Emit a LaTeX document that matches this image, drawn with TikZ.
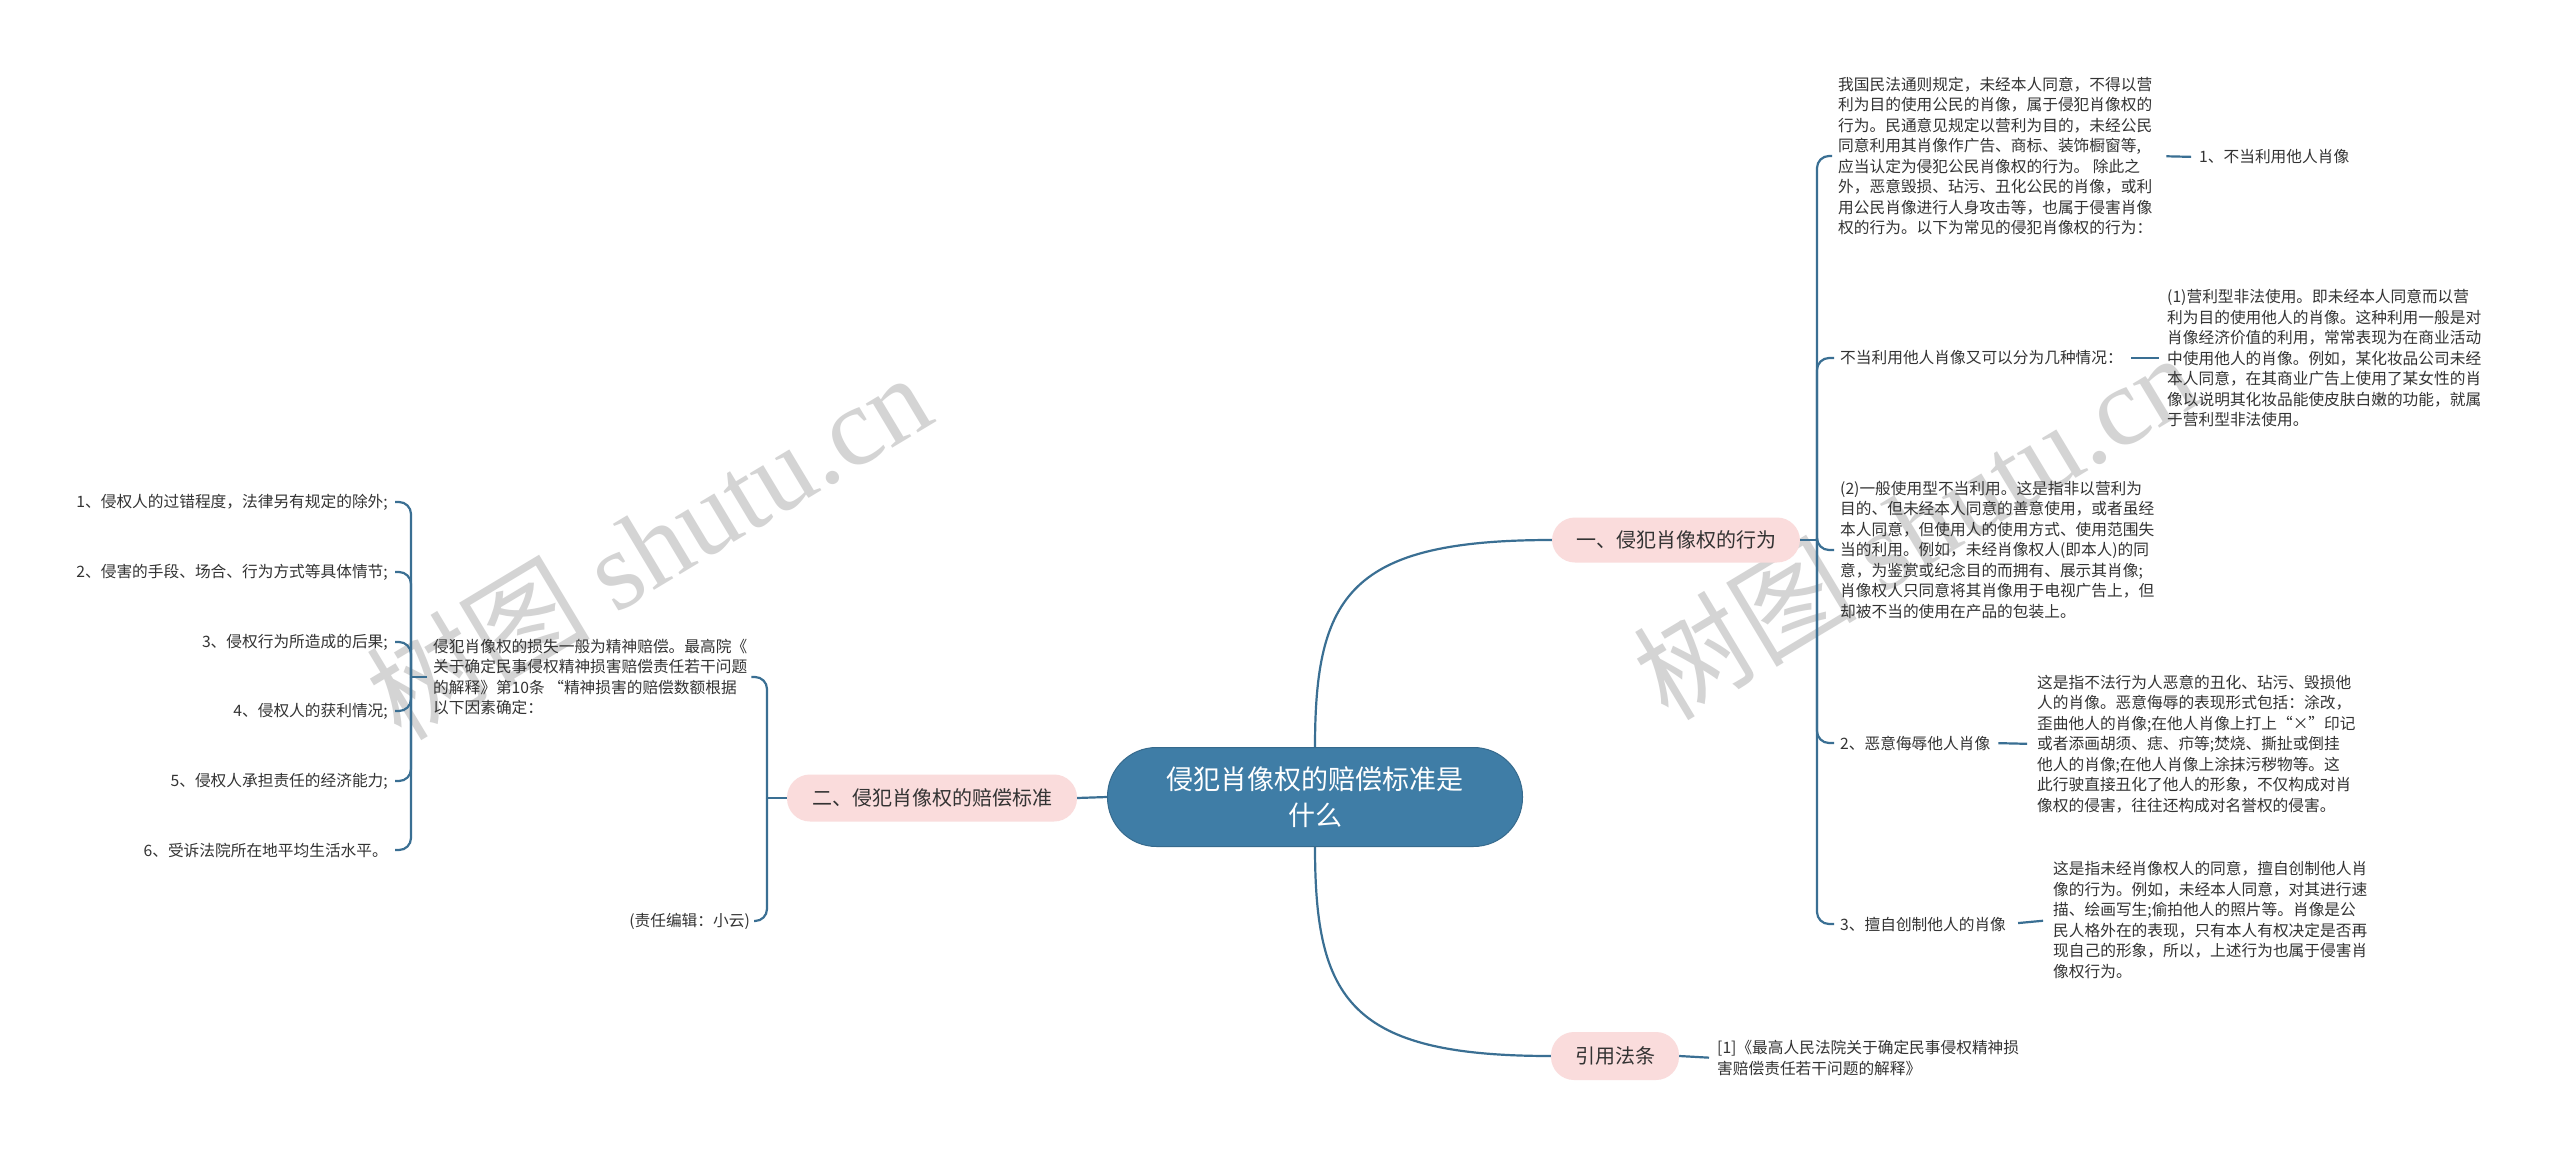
\documentclass[tikz,border=0pt]{standalone}
\usepackage{fontspec}
\setmainfont{Noto Sans CJK SC}
\newfontfamily\wmlatin{Liberation Serif}
\definecolor{linec}{HTML}{3A6F93}
\definecolor{pinkc}{HTML}{FADCDC}
\definecolor{centerc}{HTML}{3F7DA6}
\definecolor{txtc}{HTML}{333333}
\begin{document}
\begin{tikzpicture}[x=1pt,y=-1pt,
  tx/.style={font=\fontsize{15.7}{20.5}\selectfont, text=txtc, align=left, inner sep=2pt},
  txr/.style={tx, align=right},
  brnode/.style={fill=pinkc, rounded corners=23pt, text=txtc, font=\fontsize{20}{24}\selectfont, inner sep=0pt},
  ctr/.style={fill=centerc, draw=centerc!85!black, line width=1pt, rounded corners=49pt,
    minimum width=415pt, minimum height=99pt, align=center, text=white, font=\fontsize{27}{36}\selectfont},
  conn/.style={draw=linec, line width=2.2pt},
  brk/.style={conn, rounded corners=12pt},
  wm/.style={rotate=31, text=black!17, font=\fontsize{112}{112}\selectfont}
]
\fill[white] (0,0) rectangle (2560,1151);
\useasboundingbox (0,0) rectangle (2560,1151);

% watermarks
\node[wm] (wm1) at (648,545) {树图 {\wmlatin shutu.cn}};
\node[wm] (wm2) at (1915,525) {树图 {\wmlatin shutu.cn}};

% center and branches
\node[ctr] (c) at (1315,797) {侵犯肖像权的赔偿标准是\\什么};
\node[brnode, minimum width=248pt, minimum height=45pt] (b1) at (1676,540) {一、侵犯肖像权的行为};
\node[brnode, minimum width=290pt, minimum height=47pt] (b2) at (932,798) {二、侵犯肖像权的赔偿标准};
\node[brnode, minimum width=128pt, minimum height=48pt] (b3) at (1615,1056) {引用法条};

% branch 1 children
\node[tx, anchor=west] (A) at (1836,156) {我国民法通则规定，未经本人同意，不得以营\\利为目的使用公民的肖像，属于侵犯肖像权的\\行为。民通意见规定以营利为目的，未经公民\\同意利用其肖像作广告、商标、装饰橱窗等,\\应当认定为侵犯公民肖像权的行为。 除此之\\外，恶意毁损、玷污、丑化公民的肖像，或利\\用公民肖像进行人身攻击等，也属于侵害肖像\\权的行为。以下为常见的侵犯肖像权的行为：};
\node[tx, anchor=west] (A1) at (2197,157) {1、不当利用他人肖像};
\node[tx, anchor=west] (B) at (1838,358) {不当利用他人肖像又可以分为几种情况：};
\node[tx, anchor=west] (B1) at (2165,358) {(1)营利型非法使用。即未经本人同意而以营\\利为目的使用他人的肖像。这种利用一般是对\\肖像经济价值的利用，常常表现为在商业活动\\中使用他人的肖像。例如，某化妆品公司未经\\本人同意，在其商业广告上使用了某女性的肖\\像以说明其化妆品能使皮肤白嫩的功能，就属\\于营利型非法使用。};
\node[tx, anchor=west] (C) at (1838,550) {(2)一般使用型不当利用。这是指非以营利为\\目的、但未经本人同意的善意使用，或者虽经\\本人同意，但使用人的使用方式、使用范围失\\当的利用。例如，未经肖像权人(即本人)的同\\意，为鉴赏或纪念目的而拥有、展示其肖像;\\肖像权人只同意将其肖像用于电视广告上，但\\却被不当的使用在产品的包装上。};
\node[tx, anchor=west] (D) at (1838,743) {2、恶意侮辱他人肖像};
\node[tx, anchor=west] (D1) at (2035,744) {这是指不法行为人恶意的丑化、玷污、毁损他\\人的肖像。恶意侮辱的表现形式包括：涂改，\\歪曲他人的肖像;在他人肖像上打上“×”印记\\或者添画胡须、痣、疖等;焚烧、撕扯或倒挂\\他人的肖像;在他人肖像上涂抹污秽物等。这\\此行驶直接丑化了他人的形象，不仅构成对肖\\像权的侵害，往往还构成对名誉权的侵害。};
\node[tx, anchor=west] (E) at (1838,924) {3、擅自创制他人的肖像};
\node[tx, anchor=west] (E1) at (2051,920) {这是指未经肖像权人的同意，擅自创制他人肖\\像的行为。例如，未经本人同意，对其进行速\\描、绘画写生;偷拍他人的照片等。肖像是公\\民人格外在的表现，只有本人有权决定是否再\\现自己的形象，所以，上述行为也属于侵害肖\\像权行为。};

% branch 3 child
\node[tx, anchor=west] (R1) at (1715,1058) {[1]《最高人民法院关于确定民事侵权精神损\\害赔偿责任若干问题的解释》};

% branch 2 children
\node[tx, anchor=west] (F) at (431,677) {侵犯肖像权的损失一般为精神赔偿。最高院《\\关于确定民事侵权精神损害赔偿责任若干问题\\的解释》第10条 “精神损害的赔偿数额根据\\以下因素确定：};
\node[tx, anchor=east] (G) at (752,921) {(责任编辑：小云)};
\node[txr, anchor=east] (I1) at (390,502) {1、侵权人的过错程度，法律另有规定的除外;};
\node[txr, anchor=east] (I2) at (390,572) {2、侵害的手段、场合、行为方式等具体情节;};
\node[txr, anchor=east] (I3) at (390,642) {3、侵权行为所造成的后果;};
\node[txr, anchor=east] (I4) at (390,711) {4、侵权人的获利情况;};
\node[txr, anchor=east] (I5) at (390,781) {5、侵权人承担责任的经济能力;};
\node[txr, anchor=east] (I6) at (390,850) {6、受诉法院所在地平均生活水平。};

% junctions
\coordinate (j1) at (1817,540);
\coordinate (j2) at (767,798);
\coordinate (j3) at (411,677);

% main connectors
\draw[conn] (c.west) -- (b2.east);
\draw[conn] (c.north) .. controls (1315,595) and (1350,540) .. (b1.west);
\draw[conn] (c.south) .. controls (1315,1000) and (1350,1056) .. (b3.west);

% branch 1 bracket
\draw[conn] (b1.east) -- (j1);
\foreach \n in {A,B,C,D,E} { \draw[brk, shorten >=4pt] (j1) |- (\n.west); }
\draw[conn, shorten <=12pt, shorten >=6pt] (A.east) -- (A1.west);
\draw[conn, shorten <=6pt, shorten >=6pt] (B.east) -- (B1.west);
\draw[conn, shorten <=6pt, shorten >=8pt] (D.east) -- (D1.west);
\draw[conn, shorten <=10pt, shorten >=8pt] (E.east) -- (E1.west);

% branch 3
\draw[conn, shorten >=6pt] (b3.east) -- (R1.west);

% branch 2 bracket
\draw[conn] (b2.west) -- (j2);
\draw[brk, shorten >=2pt] (j2) |- (F.east);
\draw[brk, shorten >=2pt] (j2) |- (G.east);

% F bracket
\draw[conn, shorten <=4pt] (F.west) -- (j3);
\foreach \n in {I1,I2,I3,I4,I5,I6} { \draw[brk, shorten >=5pt] (j3) |- (\n.east); }
\end{tikzpicture}
\end{document}
